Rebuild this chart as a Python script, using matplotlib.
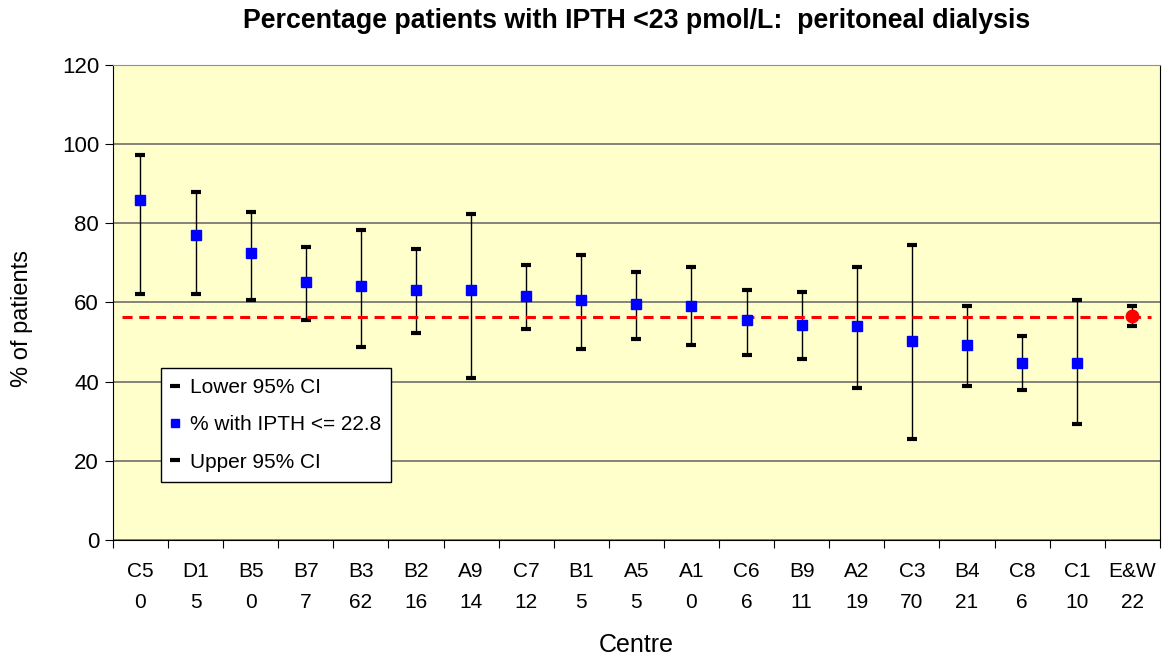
"""Percentage of PD patients with iPTH < 23 pmol/L by centre, with 95% CIs."""
import matplotlib
matplotlib.use("Agg")
import matplotlib.pyplot as plt
import numpy as np

plt.rcParams["font.family"] = ["Liberation Sans", "DejaVu Sans"]

centres = ["C5", "D1", "B5", "B7", "B3", "B2", "A9", "C7", "B1", "A5",
           "A1", "C6", "B9", "A2", "C3", "B4", "C8", "C1", "E&W"]
counts = ["0", "5", "0", "7", "62", "16", "14", "12", "5", "5",
          "0", "6", "11", "19", "70", "21", "6", "10", "22"]
pct = [85.9, 77.1, 72.4, 65.2, 64.2, 63.1, 63.1, 61.6, 60.6, 59.5,
       59.0, 55.5, 54.4, 54.0, 50.3, 49.3, 44.6, 44.6, 56.5]
lower = [62.2, 62.2, 60.6, 55.5, 48.8, 52.3, 41.0, 53.4, 48.3, 50.8,
         49.3, 46.7, 45.6, 38.4, 25.5, 38.9, 37.9, 29.2, 54.0]
upper = [97.3, 88.0, 82.8, 74.1, 78.2, 73.5, 82.3, 69.4, 72.0, 67.8,
         68.9, 63.2, 62.7, 68.9, 74.6, 59.1, 51.4, 60.6, 59.1]
ew_mean = 56.4

fig = plt.figure(figsize=(11.68, 6.61), dpi=100)
ax = fig.add_axes([0.0967, 0.183, 0.8963, 0.719])
ax.set_facecolor("#FFFFCC")

x = np.arange(len(centres))
n = len(centres) - 1  # last one is E&W

ax.set_xlim(-0.5, len(centres) - 0.5)
ax.set_ylim(0, 120)
ax.set_yticks(range(0, 121, 20))
ax.yaxis.grid(True, color="#6e6e6e", lw=1.2)
ax.set_axisbelow(True)

ax.vlines(x, lower, upper, color="black", lw=1, zorder=2)
ax.plot(x, lower, ls="none", marker="_", ms=7.5, mew=3, color="black",
        label="Lower 95% CI", zorder=3)
ax.plot(x[:n], pct[:n], ls="none", marker="s", ms=6.5, color="#0000FF",
        mec="#0000FF", label="% with IPTH <= 22.8", zorder=4)
ax.plot(x, upper, ls="none", marker="_", ms=7.5, mew=3, color="black",
        label="Upper 95% CI", zorder=3)
ax.hlines(ew_mean, -0.34, len(centres) - 0.66, colors="#FF0000", lw=2.2,
          linestyles=(0, (3.3, 2.2)), zorder=3)
ax.plot(x[n], pct[n], ls="none", marker="o", ms=9, color="#FF0000", zorder=5)

# ticks between categories, labels at centres
ax.set_xticks(np.arange(-0.5, len(centres)), labels=[])
ax.set_xticks(x, labels=[f"{c}\n{k}" for c, k in zip(centres, counts)], minor=True)
ax.tick_params(axis="x", which="major", length=6, color="black")
ax.tick_params(axis="x", which="minor", length=0, pad=16, labelsize=15)
ax.tick_params(axis="y", length=6, labelsize=16, pad=4)
for lab in ax.get_xticklabels(minor=True):
    lab.set_linespacing(1.8)

for side in ["left", "bottom", "right"]:
    ax.spines[side].set_color("black")
ax.spines["top"].set_color("#909090")

ax.set_xlabel("Centre", fontsize=18, va="center")
ax.xaxis.set_label_coords(0.5, -0.221)
ax.set_ylabel("% of patients", fontsize=17, va="center")
ax.yaxis.set_label_coords(-0.087, 0.467)
fig.text(0.545, 0.968, "Percentage patients with IPTH <23 pmol/L:  peritoneal dialysis",
         ha="center", va="center", fontsize=19.3, fontweight="bold")

leg = ax.legend(loc="lower left", bbox_to_anchor=(0.0455, 0.122), fontsize=15,
                frameon=True, fancybox=False, edgecolor="black", framealpha=1,
                handlelength=0.4, handletextpad=0.5, labelspacing=0.88,
                borderpad=0.5, borderaxespad=0, numpoints=1)
leg.get_frame().set_linewidth(1)
for h in leg.legend_handles:
    if h.get_marker() == "_":
        h.set_markersize(7)
        h.set_markeredgewidth(3)
    else:
        h.set_markersize(5.5)

fig.savefig("out.png", dpi=100)
